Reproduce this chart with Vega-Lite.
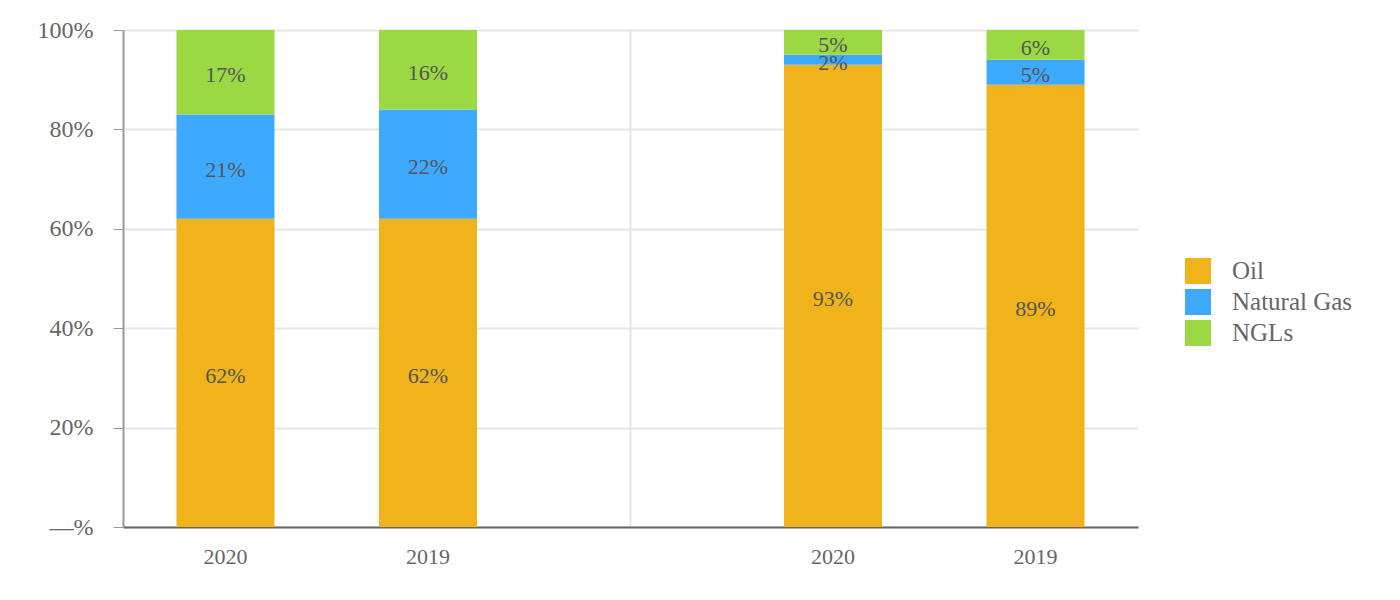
{
  "$schema": "https://vega.github.io/schema/vega-lite/v6.json",
  "width": 1015,
  "height": 497,
  "autosize": {"type": "none"},
  "padding": {"left": 123, "top": 30, "right": 262, "bottom": 73},
  "background": "white",
  "config": {
    "view": {"stroke": null},
    "font": "Liberation Serif",
    "axis": {"labelFont": "Liberation Serif", "labelColor": "#666666"},
    "legend": {"labelFont": "Liberation Serif", "labelFontSize": 25, "labelColor": "#666666"}
  },
  "data": {
    "values": [
      {"bar": "A 2020", "series": "Oil", "value": 0.62},
      {"bar": "A 2020", "series": "Natural Gas", "value": 0.21},
      {"bar": "A 2020", "series": "NGLs", "value": 0.17},
      {"bar": "A 2019", "series": "Oil", "value": 0.62},
      {"bar": "A 2019", "series": "Natural Gas", "value": 0.22},
      {"bar": "A 2019", "series": "NGLs", "value": 0.16},
      {"bar": "B 2020", "series": "Oil", "value": 0.93},
      {"bar": "B 2020", "series": "Natural Gas", "value": 0.02},
      {"bar": "B 2020", "series": "NGLs", "value": 0.05},
      {"bar": "B 2019", "series": "Oil", "value": 0.89},
      {"bar": "B 2019", "series": "Natural Gas", "value": 0.05},
      {"bar": "B 2019", "series": "NGLs", "value": 0.06}
    ]
  },
  "transform": [
    {"stack": "value", "groupby": ["bar"], "sort": [{"field": "series", "order": "descending"}], "as": ["y0", "y1"]},
    {"calculate": "(datum.y0 + datum.y1) / 2", "as": "ymid"}
  ],
  "encoding": {
    "x": {
      "field": "bar",
      "type": "nominal",
      "scale": {"domain": ["A 2020", "A 2019", "gap", "B 2020", "B 2019"], "paddingInner": 0.516, "paddingOuter": 0.264},
      "axis": {
        "title": null,
        "labelAngle": 0,
        "labelFontSize": 22,
        "labelExpr": "datum.value === 'gap' ? '' : slice(datum.value, 2)",
        "ticks": false,
        "labelPadding": 19,
        "domainColor": "#666666",
        "domainWidth": 2,
        "grid": true,
        "gridColor": "#e6e6e6",
        "gridWidth": 2,
        "gridOpacity": {"condition": {"test": "datum.value === 'gap'", "value": 1}, "value": 0}
      }
    }
  },
  "layer": [
    {
      "mark": {"type": "bar"},
      "encoding": {
        "y": {
          "field": "y1",
          "type": "quantitative",
          "scale": {"domain": [0, 1], "nice": false},
          "axis": {
            "title": null,
            "values": [0, 0.2, 0.4, 0.6, 0.8, 1],
            "labelExpr": "datum.value === 0 ? '—%' : format(datum.value, '.0%')",
            "labelFontSize": 24,
            "tickSize": 10,
            "tickColor": "#999999",
            "labelPadding": 20,
            "domainColor": "#999999",
            "domainWidth": 2,
            "gridColor": "#e6e6e6",
            "gridWidth": 2
          }
        },
        "y2": {"field": "y0"},
        "color": {
          "field": "series",
          "type": "nominal",
          "scale": {"domain": ["Oil", "Natural Gas", "NGLs"], "range": ["#F1B31B", "#3DAAFF", "#9AD944"]},
          "legend": {
            "title": null,
            "orient": "none",
            "legendX": 1062,
            "legendY": 228,
            "symbolType": "square",
            "symbolSize": 676,
            "symbolStrokeWidth": 0,
            "labelOffset": 21,
            "rowPadding": 5
          }
        }
      }
    },
    {
      "mark": {"type": "text", "fontSize": 22, "color": "#555555", "baseline": "middle", "dy": 3, "font": "Liberation Serif"},
      "encoding": {
        "y": {"field": "ymid", "type": "quantitative"},
        "text": {"field": "value", "type": "quantitative", "format": ".0%"}
      }
    }
  ]
}
